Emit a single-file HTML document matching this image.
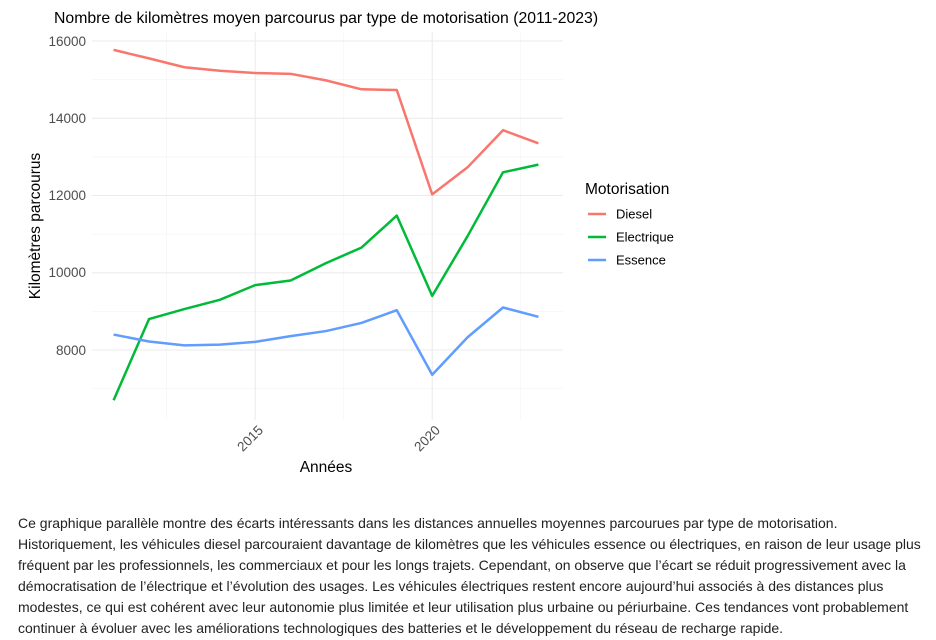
<!DOCTYPE html>
<html><head><meta charset="utf-8"><style>
html,body{margin:0;padding:0;background:#fff;width:936px;height:640px;overflow:hidden}
svg{position:absolute;left:0;top:0}
.p{position:absolute;left:18px;top:513px;font:14px/21px "Liberation Sans",sans-serif;color:#222;white-space:nowrap}
</style></head><body>
<svg width="936" height="500" font-family="Liberation Sans, sans-serif">
<text x="54" y="23" font-size="15.8" fill="#000">Nombre de kilomètres moyen parcourus par type de motorisation (2011-2023)</text>
<g stroke="#f3f3f3" stroke-width="0.6">
<line x1="92" x2="563" y1="79.6" y2="79.6"/><line x1="92" x2="563" y1="156.9" y2="156.9"/>
<line x1="92" x2="563" y1="234.1" y2="234.1"/><line x1="92" x2="563" y1="311.4" y2="311.4"/>
<line x1="92" x2="563" y1="388.6" y2="388.6"/>
<line x1="166.7" x2="166.7" y1="32" y2="420"/><line x1="343.7" x2="343.7" y1="32" y2="420"/><line x1="520.7" x2="520.7" y1="32" y2="420"/>
</g>
<g stroke="#ebebeb" stroke-width="1.1">
<line x1="92" x2="563" y1="41" y2="41"/><line x1="92" x2="563" y1="118.3" y2="118.3"/>
<line x1="92" x2="563" y1="195.5" y2="195.5"/><line x1="92" x2="563" y1="272.8" y2="272.8"/>
<line x1="92" x2="563" y1="350" y2="350"/>
<line x1="255.2" x2="255.2" y1="32" y2="420"/><line x1="432.2" x2="432.2" y1="32" y2="420"/>
</g>
<g font-size="13.5" fill="#4d4d4d" text-anchor="end">
<text x="86" y="46">16000</text><text x="86" y="123">14000</text><text x="86" y="200">12000</text><text x="86" y="277">10000</text><text x="86" y="355">8000</text>
<text transform="translate(264,431) rotate(-45)">2015</text>
<text transform="translate(441,431) rotate(-45)">2020</text>
</g>
<text x="326" y="472" font-size="15.5" text-anchor="middle">Années</text>
<text transform="translate(40,226) rotate(-90)" font-size="15.5" text-anchor="middle">Kilomètres parcourus</text>
<g transform="translate(113.6,41) scale(35.4,-0.038625)" fill="none" stroke-width="2.5" stroke-linejoin="round">
<polyline vector-effect="non-scaling-stroke" stroke="#F8766D" points="0,-230 1,-450 2,-680 3,-770 4,-830 5,-850 6,-1020 7,-1250 8,-1270 9,-3970 10,-3270 11,-2310 12,-2650"/>
<polyline vector-effect="non-scaling-stroke" stroke="#00BA38" points="0,-9300 1,-7200 2,-6940 3,-6700 4,-6320 5,-6200 6,-5750 7,-5350 8,-4520 9,-6600 10,-5050 11,-3400 12,-3200"/>
<polyline vector-effect="non-scaling-stroke" stroke="#619CFF" points="0,-7600 1,-7780 2,-7880 3,-7860 4,-7790 5,-7640 6,-7510 7,-7300 8,-6970 9,-8640 10,-7670 11,-6900 12,-7140"/>
</g>
<text x="585" y="194" font-size="15.5">Motorisation</text>
<g stroke-width="2.5"><line x1="588" x2="606" y1="214" y2="214" stroke="#F8766D"/><line x1="588" x2="606" y1="237" y2="237" stroke="#00BA38"/><line x1="588" x2="606" y1="260" y2="260" stroke="#619CFF"/></g>
<g font-size="13"><text x="616" y="218.5">Diesel</text><text x="616" y="241.5">Electrique</text><text x="616" y="264.5">Essence</text></g>
</svg>
<div class="p">Ce graphique parallèle montre des écarts intéressants dans les distances annuelles moyennes parcourues par type de motorisation.<br>Historiquement, les véhicules diesel parcouraient davantage de kilomètres que les véhicules essence ou électriques, en raison de leur usage plus<br>fréquent par les professionnels, les commerciaux et pour les longs trajets. Cependant, on observe que l’écart se réduit progressivement avec la<br>démocratisation de l’électrique et l’évolution des usages. Les véhicules électriques restent encore aujourd’hui associés à des distances plus<br>modestes, ce qui est cohérent avec leur autonomie plus limitée et leur utilisation plus urbaine ou périurbaine. Ces tendances vont probablement<br>continuer à évoluer avec les améliorations technologiques des batteries et le développement du réseau de recharge rapide.</div>
</body></html>
